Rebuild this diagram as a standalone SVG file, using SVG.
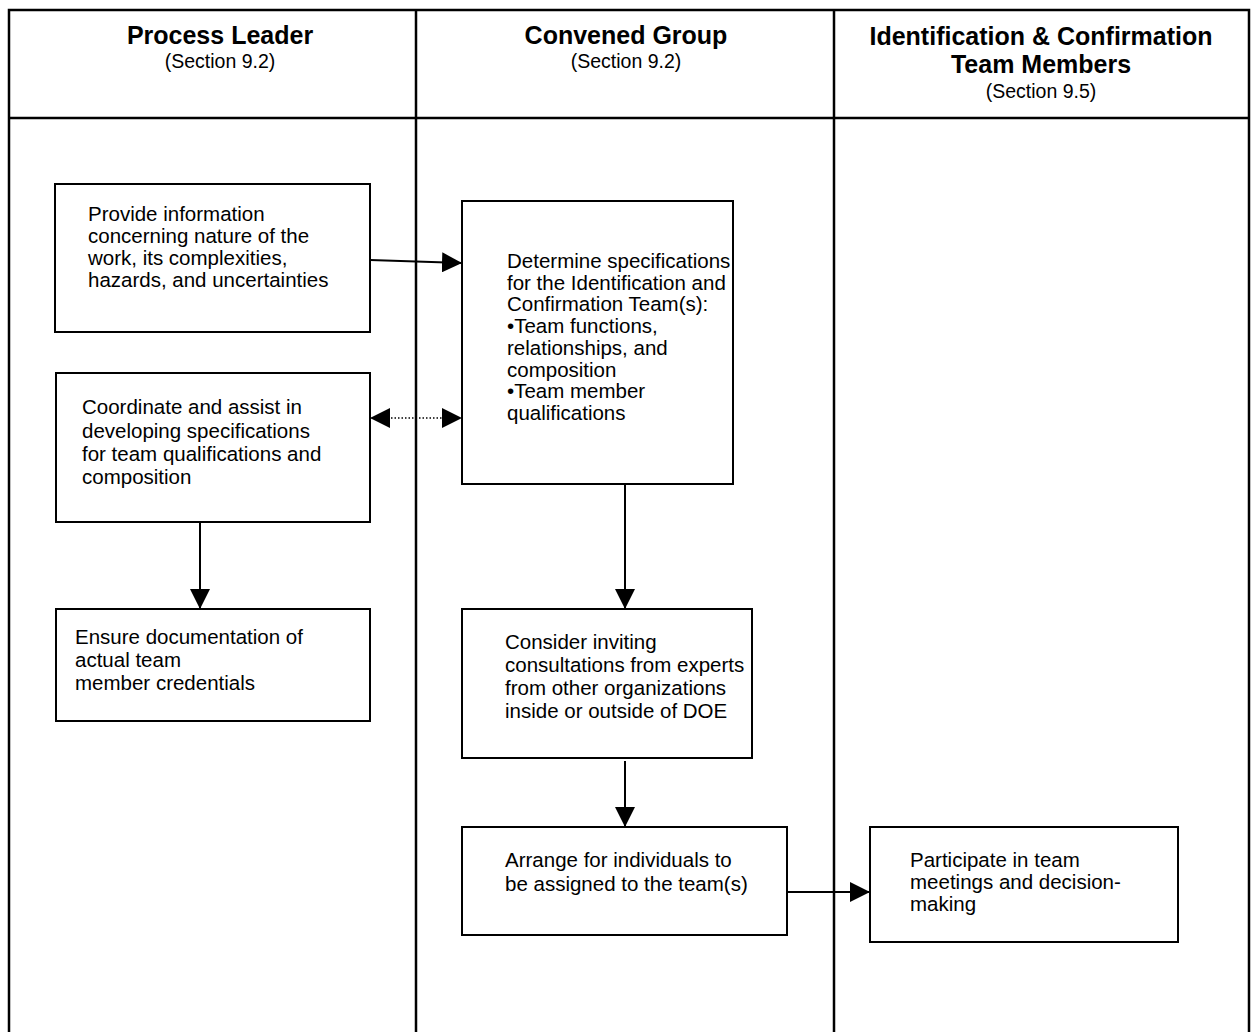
<svg xmlns="http://www.w3.org/2000/svg" width="1254" height="1032" viewBox="0 0 1254 1032">
<defs>
<style>
.frame{fill:none;stroke:#000;stroke-width:2.5}
.box{fill:#fff;stroke:#000;stroke-width:2}
.t{font-family:"Liberation Sans",Arial,sans-serif;font-size:20.5px;fill:#000}
.h{font-family:"Liberation Sans",Arial,sans-serif;font-size:25px;font-weight:bold;fill:#000;text-anchor:middle}
.s{font-family:"Liberation Sans",Arial,sans-serif;font-size:19.5px;fill:#000;text-anchor:middle}
.c{fill:none;stroke:#000;stroke-width:2}
.d{fill:none;stroke:#000;stroke-width:1.5;stroke-dasharray:1.5 2}
</style>
<marker id="ah" markerUnits="userSpaceOnUse" viewBox="0 0 20 20" refX="20" refY="10" markerWidth="20" markerHeight="20" orient="auto-start-reverse">
<path d="M0,0 L20,10 L0,20 z" fill="#000"/>
</marker>
</defs>
<rect width="1254" height="1032" fill="#fff"/>
<g id="table">
<path class="frame" d="M9,1032 V10 H1249 V1032 M9,118 H1249 M416,10 V1032 M834,10 V1032"/>
</g>
<g id="header-process-leader">
<text class="h" x="220" y="44">Process Leader</text>
<text class="s" x="220" y="68">(Section 9.2)</text>
</g>
<g id="header-convened-group">
<text class="h" x="626" y="44">Convened Group</text>
<text class="s" x="626" y="68">(Section 9.2)</text>
</g>
<g id="header-team-members">
<text class="h" x="1041" y="45">Identification &amp; Confirmation</text>
<text class="h" x="1041" y="73">Team Members</text>
<text class="s" x="1041" y="98">(Section 9.5)</text>
</g>
<g id="connectors">
<line class="c" x1="370" y1="260" x2="462" y2="263" marker-end="url(#ah)"/>
<line class="d" x1="370" y1="418" x2="462" y2="418" marker-start="url(#ah)" marker-end="url(#ah)"/>
<line class="c" x1="200" y1="522" x2="200" y2="609" marker-end="url(#ah)"/>
<line class="c" x1="625" y1="484" x2="625" y2="609" marker-end="url(#ah)"/>
<line class="c" x1="625" y1="761" x2="625" y2="827" marker-end="url(#ah)"/>
<line class="c" x1="787" y1="892" x2="870" y2="892" marker-end="url(#ah)"/>
</g>
<g id="node-provide-information">
<rect class="box" x="55" y="184" width="315" height="148"/>
<text class="t"><tspan x="88" y="221">Provide information</tspan><tspan x="88" y="243">concerning nature of the</tspan><tspan x="88" y="265">work, its complexities,</tspan><tspan x="88" y="287">hazards, and uncertainties</tspan></text>
</g>
<g id="node-determine-specifications">
<rect class="box" x="462" y="201" width="271" height="283"/>
<text class="t"><tspan x="507" y="268">Determine specifications</tspan><tspan x="507" y="289.7">for the Identification and</tspan><tspan x="507" y="311.4">Confirmation Team(s):</tspan><tspan x="507" y="333.1">•Team functions,</tspan><tspan x="507" y="354.8">relationships, and</tspan><tspan x="507" y="376.5">composition</tspan><tspan x="507" y="398.2">•Team member</tspan><tspan x="507" y="420">qualifications</tspan></text>
</g>
<g id="node-coordinate-assist">
<rect class="box" x="56" y="373" width="314" height="149"/>
<text class="t"><tspan x="82" y="414">Coordinate and assist in</tspan><tspan x="82" y="438">developing specifications</tspan><tspan x="82" y="461">for team qualifications and</tspan><tspan x="82" y="484">composition</tspan></text>
</g>
<g id="node-ensure-documentation">
<rect class="box" x="56" y="609" width="314" height="112"/>
<text class="t"><tspan x="75" y="644">Ensure documentation of</tspan><tspan x="75" y="667">actual team</tspan><tspan x="75" y="690">member credentials</tspan></text>
</g>
<g id="node-consider-inviting">
<rect class="box" x="462" y="609" width="290" height="149"/>
<text class="t"><tspan x="505" y="649">Consider inviting</tspan><tspan x="505" y="672">consultations from experts</tspan><tspan x="505" y="695">from other organizations</tspan><tspan x="505" y="718">inside or outside of DOE</tspan></text>
</g>
<g id="node-arrange-individuals">
<rect class="box" x="462" y="827" width="325" height="108"/>
<text class="t"><tspan x="505" y="867">Arrange for individuals to</tspan><tspan x="505" y="891">be assigned to the team(s)</tspan></text>
</g>
<g id="node-participate">
<rect class="box" x="870" y="827" width="308" height="115"/>
<text class="t"><tspan x="910" y="867">Participate in team</tspan><tspan x="910" y="889">meetings and decision-</tspan><tspan x="910" y="911">making</tspan></text>
</g>
</svg>
